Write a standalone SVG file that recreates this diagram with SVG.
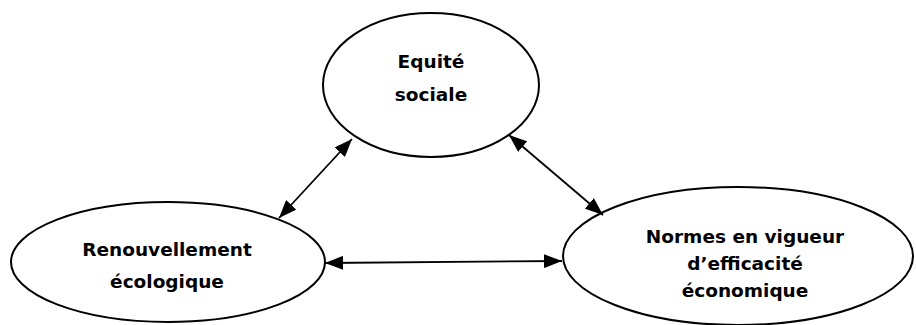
<svg xmlns="http://www.w3.org/2000/svg" width="916" height="325" viewBox="0 0 916 325">
<style>
.node ellipse{fill:#fff;stroke:#000;stroke-width:2}
.node text{font-family:"DejaVu Sans","Noto Sans",sans-serif;font-weight:bold;font-size:18.5px;text-anchor:middle;fill:#000}
.conn line{stroke:#000;stroke-width:1.8;fill:none}
</style>
<defs>
<marker id="ah" viewBox="0 0 18 14" refX="18" refY="7" markerWidth="18" markerHeight="14" markerUnits="userSpaceOnUse" orient="auto-start-reverse">
<path d="M0,0 L18,7 L0,14 Z" fill="#000"/>
</marker>
</defs>
<rect width="916" height="325" fill="#fff"/>
<g id="node-equite" class="node">
<ellipse cx="431" cy="85" rx="108" ry="72"/>
<text x="431" y="68">Equité</text>
<text x="431" y="101">sociale</text>
</g>
<g id="node-renouvellement" class="node">
<ellipse cx="168" cy="262" rx="157" ry="60"/>
<text x="167" y="256">Renouvellement</text>
<text x="167" y="288">écologique</text>
</g>
<g id="node-normes" class="node">
<ellipse cx="738" cy="256" rx="175" ry="69"/>
<text x="745" y="243">Normes en vigueur</text>
<text x="745" y="270">d’efficacité</text>
<text x="745" y="297">économique</text>
</g>
<g id="connectors" class="conn">
<line x1="279" y1="218" x2="352" y2="139" marker-start="url(#ah)" marker-end="url(#ah)"/>
<line x1="509" y1="135" x2="603" y2="215" marker-start="url(#ah)" marker-end="url(#ah)"/>
<line x1="325" y1="263" x2="562" y2="261" marker-start="url(#ah)" marker-end="url(#ah)"/>
</g>
</svg>
